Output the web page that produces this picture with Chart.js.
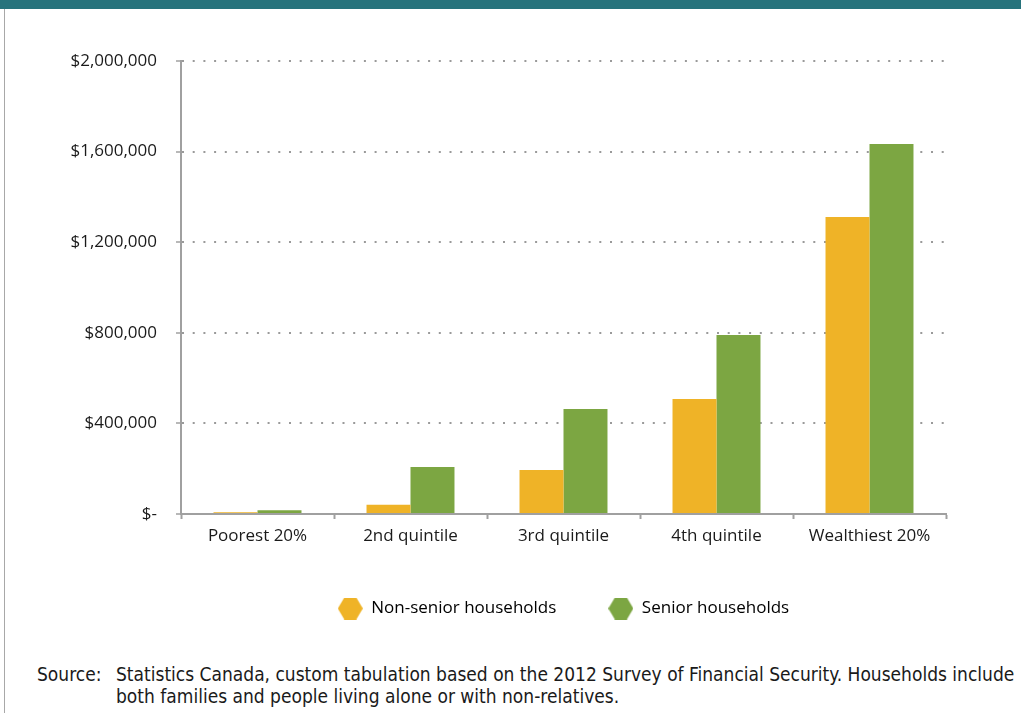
<!DOCTYPE html>
<html lang="en">

<head>
    <meta charset="UTF-8">
    <title>Net worth by quintile</title>
    <script src="https://cdn.jsdelivr.net/npm/chart.js"></script>
    <style>
        body {
            margin: 0;
            background: #ffffff;
            font-family: "Open Sans", Arial, sans-serif;
            color: #1a1a1a;
        }

        .page {
            position: relative;
            width: 1021px;
            height: 713px;
            overflow: hidden;
        }

        .band {
            position: absolute;
            left: 0;
            top: 0;
            width: 1021px;
            height: 9px;
            background: #27737c;
        }

        .edge {
            position: absolute;
            left: 4px;
            top: 9px;
            width: 1px;
            height: 704px;
            background: #a8a8a8;
        }

        .chart-box {
            position: absolute;
            left: 0;
            top: 0;
            width: 1021px;
            height: 640px;
        }

        .source {
            position: absolute;
            top: 663px;
            font-family: "Liberation Sans Narrow", "DejaVu Sans Condensed", "Roboto", sans-serif;
            font-size: 19px;
            line-height: 22px;
            color: #1a1a1a;
        }
    </style>
</head>

<body>
    <div class="page">
        <div class="band"></div>
        <div class="edge"></div>
        <div class="chart-box"><canvas id="wealthChart"></canvas></div>
        <div class="source" style="left:37px;">Source:</div>
        <div class="source" style="left:116px;">Statistics Canada, custom tabulation based on the 2012 Survey of Financial Security. Households include<br>both families and people living alone or with non-relatives.</div>
    </div>

    <script>
        // data
        const quintiles = ["Poorest 20%", "2nd quintile", "3rd quintile", "4th quintile", "Wealthiest 20%"];
        const nonSenior = [8000, 41000, 194000, 508000, 1311000];
        const senior = [17000, 207000, 464000, 790000, 1634000];
        const yTickValues = [0, 400000, 800000, 1200000, 1600000, 2000000];

        const ORANGE = "#efb327";
        const GREEN = "#7ca642";

        // hexagon legend markers
        function hexagon(color) {
            const c = document.createElement("canvas");
            c.width = 25;
            c.height = 22;
            const g = c.getContext("2d");
            g.fillStyle = color;
            g.beginPath();
            g.moveTo(0, 11);
            g.lineTo(6.5, 0);
            g.lineTo(18.5, 0);
            g.lineTo(25, 11);
            g.lineTo(18.5, 22);
            g.lineTo(6.5, 22);
            g.closePath();
            g.fill();
            return c;
        }

        const markers = [hexagon(ORANGE), hexagon(GREEN)];

        function money(v) {
            return v === 0 ? "$-" : "$" + v.toLocaleString("en-US");
        }

        new Chart(document.getElementById("wealthChart"), {
            type: "bar",
            data: {
                labels: quintiles,
                datasets: [{
                    label: "Non-senior households",
                    data: nonSenior,
                    backgroundColor: ORANGE,
                    categoryPercentage: 0.575,
                    barPercentage: 1.0
                }, {
                    label: "Senior households",
                    data: senior,
                    backgroundColor: GREEN,
                    categoryPercentage: 0.575,
                    barPercentage: 1.0
                }]
            },
            options: {
                responsive: true,
                maintainAspectRatio: false,
                animation: false,
                layout: {
                    padding: { top: 61, right: 75, bottom: 13, left: 0 }
                },
                plugins: {
                    tooltip: { enabled: false },
                    legend: {
                        position: "bottom",
                        fullSize: false,
                        labels: {
                            usePointStyle: true,
                            pointStyleWidth: 25,
                            padding: 52,
                            color: "#1a1a1a",
                            font: { family: "Open Sans", size: 17 },
                            generateLabels: chart => chart.data.datasets.map((ds, i) => ({
                                text: ds.label,
                                fillStyle: ds.backgroundColor,
                                strokeStyle: ds.backgroundColor,
                                lineWidth: 0,
                                pointStyle: markers[i],
                                datasetIndex: i,
                                hidden: false
                            }))
                        }
                    }
                },
                scales: {
                    x: {
                        grid: {
                            display: true,
                            offset: true,
                            drawOnChartArea: false,
                            tickLength: 5,
                            tickColor: "#a0a0a0",
                            tickWidth: 2
                        },
                        border: { color: "#a0a0a0", width: 2 },
                        ticks: {
                            padding: 7,
                            color: "#1a1a1a",
                            font: { family: "Open Sans", size: 17 }
                        },
                        afterFit: scale => { scale.height = 34; }
                    },
                    y: {
                        min: 0,
                        max: 2000000,
                        afterBuildTicks: scale => {
                            scale.ticks = yTickValues.map(v => ({ value: v }));
                        },
                        afterFit: scale => { scale.width = 181; },
                        grid: {
                            color: ctx => ctx.tick && ctx.tick.value === 0 ? "rgba(0,0,0,0)" : "#9a9a9a",
                            lineWidth: 2,
                            tickLength: 5,
                            tickColor: "#a0a0a0",
                            tickWidth: 1.5
                        },
                        border: { color: "#a0a0a0", width: 2, dash: [2, 8.7] },
                        ticks: {
                            padding: 19,
                            color: "#1a1a1a",
                            font: { family: "Open Sans", size: 17 },
                            callback: v => money(v)
                        }
                    }
                }
            }
        });
    </script>
</body>

</html>
